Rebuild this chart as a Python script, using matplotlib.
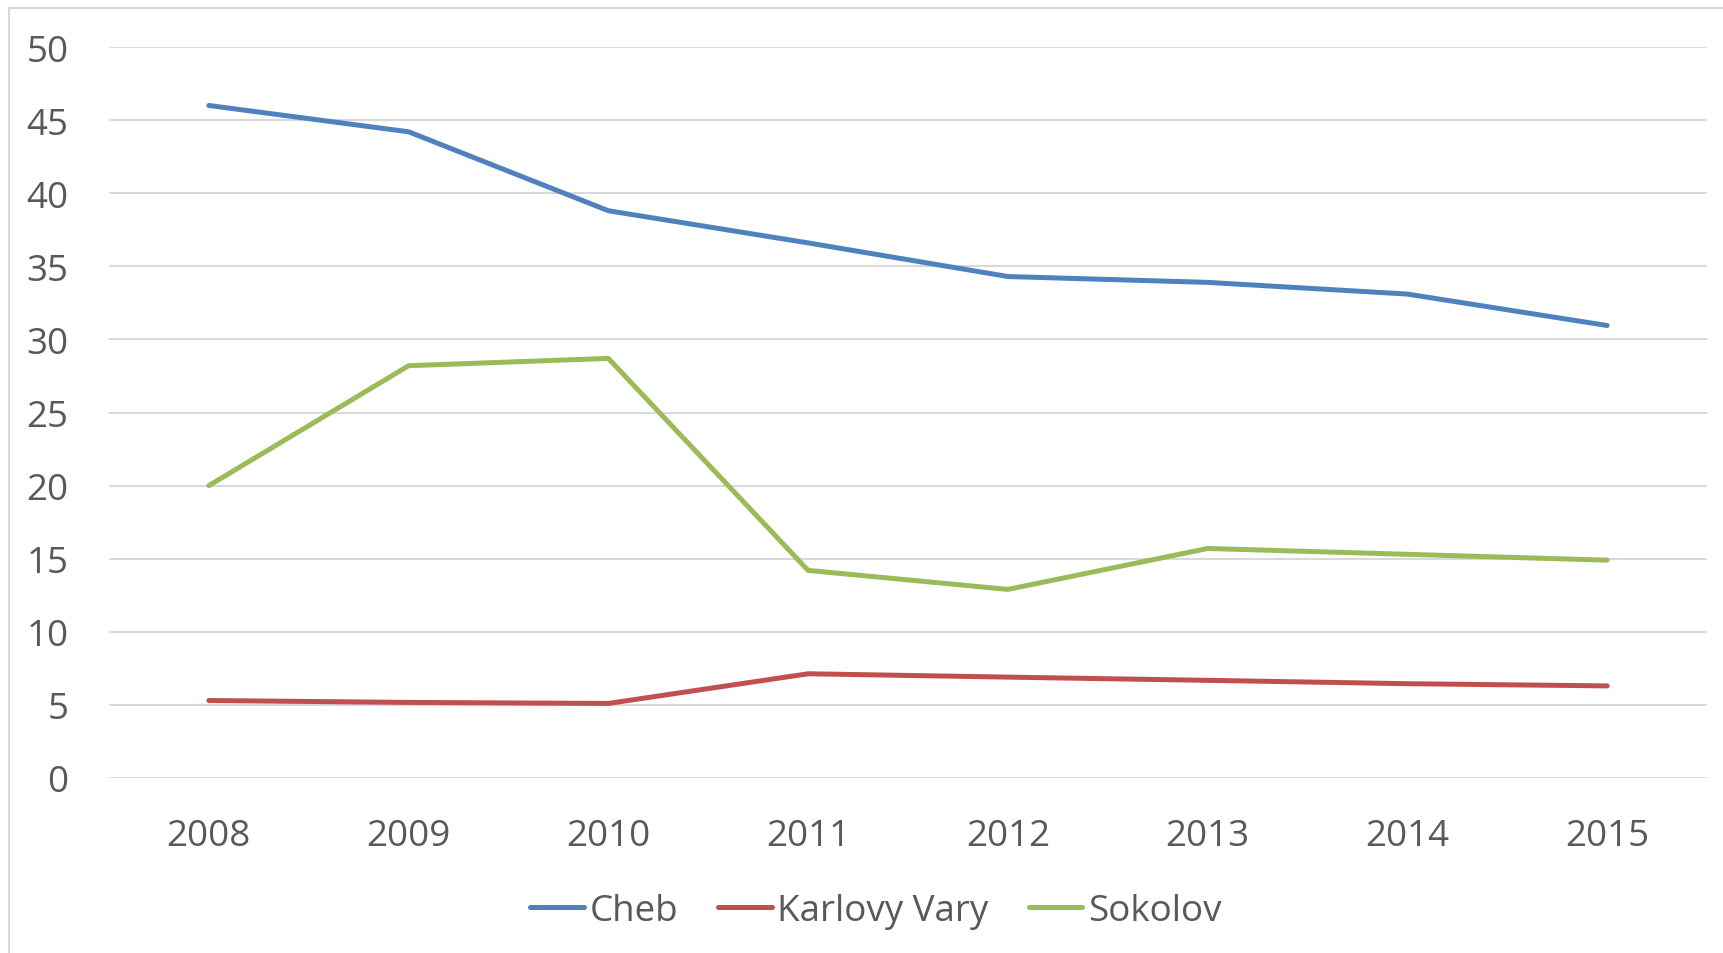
import matplotlib.pyplot as plt
from matplotlib.lines import Line2D

years = ["2008", "2009", "2010", "2011", "2012", "2013", "2014", "2015"]
cheb = [46.0, 44.2, 38.8, 36.6, 34.3, 33.9, 33.1, 30.95]
karlovy_vary = [5.3, 5.17, 5.1, 7.13, 6.9, 6.68, 6.45, 6.3]
sokolov = [20.0, 28.2, 28.7, 14.2, 12.9, 15.7, 15.3, 14.9]

series = [
    ("Cheb", cheb, "#4F81BD"),
    ("Karlovy Vary", karlovy_vary, "#C0504D"),
    ("Sokolov", sokolov, "#9BBB59"),
]

text_color = "#595959"
grid_color = "#D9D9D9"

plt.rcParams["font.family"] = ["Open Sans", "DejaVu Sans"]

W, H = 1723, 954
fig = plt.figure(figsize=(W / 100, H / 100), dpi=100)
ax = fig.add_axes([109 / W, 1 - 779 / H, (1707 - 109) / W, (779 - 48) / H])

x = list(range(len(years)))
for name, vals, color in series:
    ax.plot(x, vals, color=color, lw=3.6, label=name,
            solid_capstyle="round", solid_joinstyle="round")

ax.set_xlim(-0.5, len(years) - 0.5)
ax.set_ylim(0, 50)
ax.set_yticks(range(0, 51, 5))
ax.set_xticks(x)
ax.set_xticklabels(years)
ax.grid(axis="y", color=grid_color, lw=1.5)
ax.set_axisbelow(True)
for s in ax.spines.values():
    s.set_visible(False)
ax.tick_params(axis="both", length=0, labelsize=26.5, labelcolor=text_color)
ax.tick_params(axis="y", pad=29)
ax.tick_params(axis="x", pad=29)

leg = fig.legend(loc="center", bbox_to_anchor=(876 / W, 1 - 912 / H), ncol=3,
                 frameon=False, fontsize=26.5, handlelength=1.45,
                 handletextpad=0.15, columnspacing=1.1)
for t in leg.get_texts():
    t.set_color(text_color)

# chart area border (only left and top visible in the crop)
fig.add_artist(Line2D([9 / W, 9 / W], [0, 1 - 9 / H], transform=fig.transFigure,
                      color=grid_color, lw=1.5))
fig.add_artist(Line2D([9 / W, 1], [1 - 9 / H, 1 - 9 / H], transform=fig.transFigure,
                      color=grid_color, lw=1.5))

fig.savefig("out.png", dpi=100, facecolor="white")
